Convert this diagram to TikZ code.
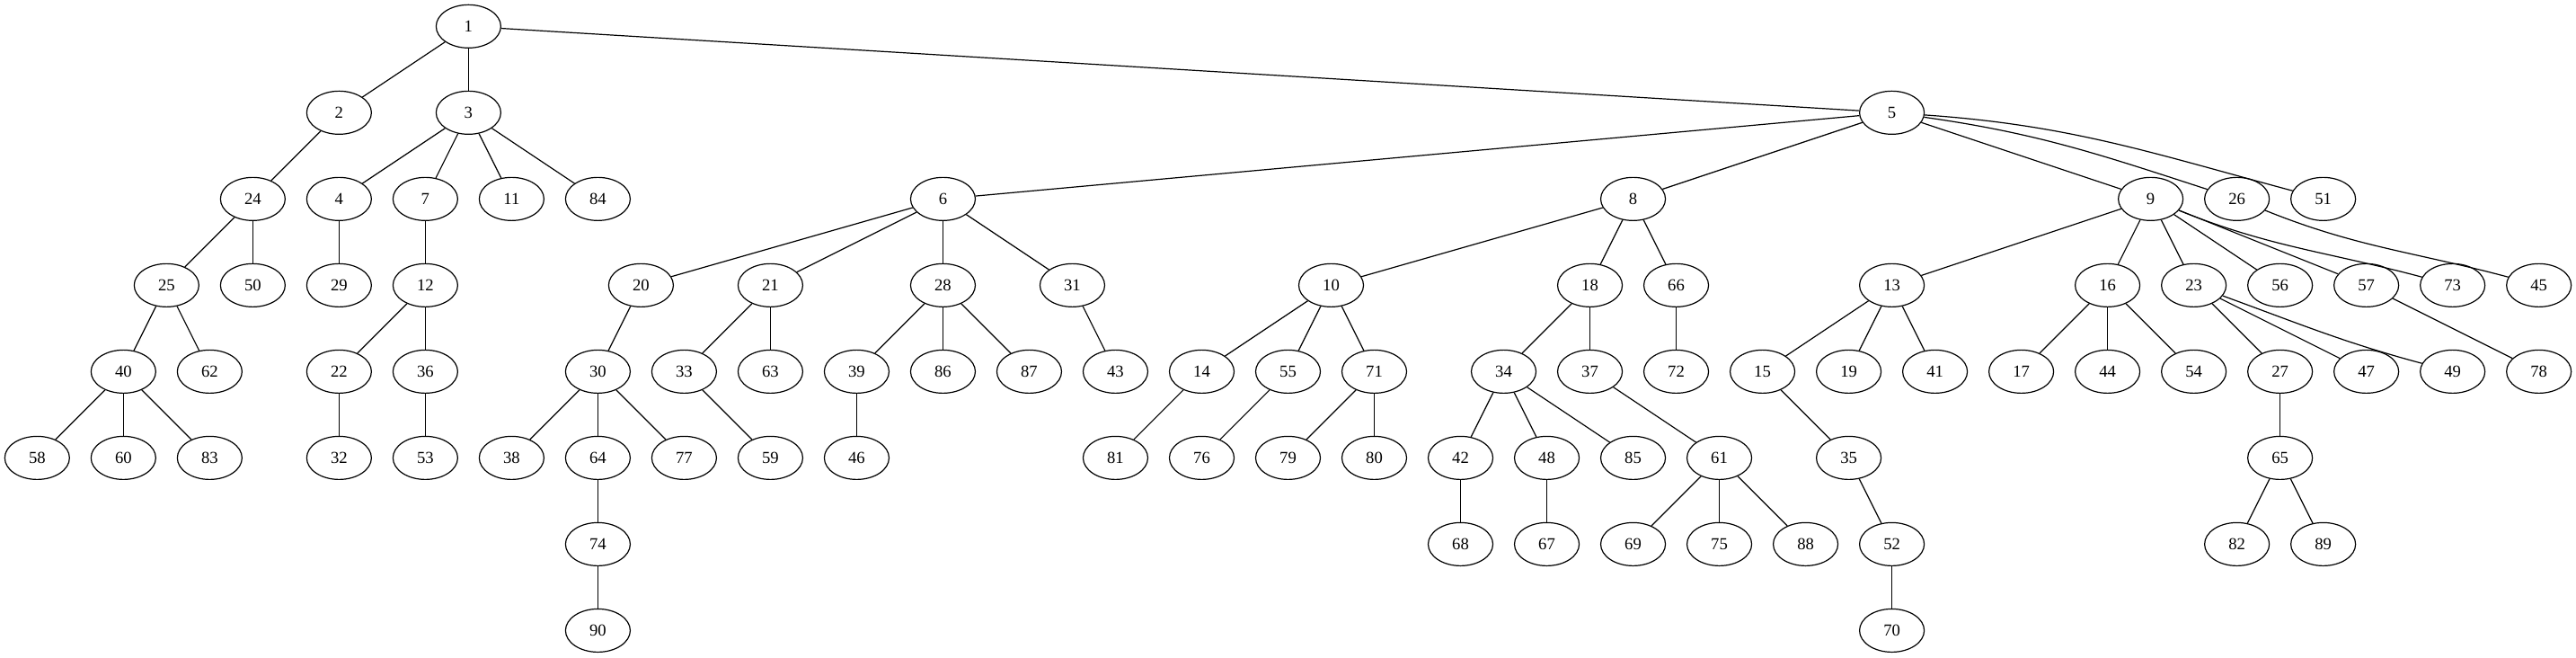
\documentclass[tikz,border=0pt]{standalone}
\usepackage{fontspec}
\setmainfont{Liberation Serif}
\usetikzlibrary{shapes.geometric}
\begin{document}
\begin{tikzpicture}[x=1pt,y=-1pt,
  nd/.style={draw,ellipse,line width=0.9pt,minimum width=54pt,minimum height=36pt,inner sep=0pt,font=\fontsize{14}{16}\selectfont},
  ed/.style={line width=0.9pt}]
\path[use as bounding box] (0,0) rectangle (2150,548.25);
\foreach \n/\k/\r in {1/10/0,
 2/7/1,3/10/1,5/43/1,
 24/5/2,4/7/2,7/9/2,11/11/2,84/13/2,6/21/2,8/37/2,9/49/2,26/51/2,51/53/2,
 25/3/3,50/5/3,29/7/3,12/9/3,20/14/3,21/17/3,28/21/3,31/24/3,10/30/3,18/36/3,66/38/3,13/43/3,16/48/3,23/50/3,56/52/3,57/54/3,73/56/3,45/58/3,
 40/2/4,62/4/4,22/7/4,36/9/4,30/13/4,33/15/4,63/17/4,39/19/4,86/21/4,87/23/4,43/25/4,14/27/4,55/29/4,71/31/4,34/34/4,37/36/4,72/38/4,15/40/4,19/42/4,41/44/4,17/46/4,44/48/4,54/50/4,27/52/4,47/54/4,49/56/4,78/58/4,
 58/0/5,60/2/5,83/4/5,32/7/5,53/9/5,38/11/5,64/13/5,77/15/5,59/17/5,46/19/5,81/25/5,76/27/5,79/29/5,80/31/5,42/33/5,48/35/5,85/37/5,61/39/5,35/42/5,65/52/5,
 74/13/6,68/33/6,67/35/6,69/37/6,75/39/6,88/41/6,52/43/6,82/51/6,89/53/6,
 90/13/7,70/43/7}
 {\node[nd] (n\n) at ({31+36*\k},{22+72*\r}) {\n};}
\foreach \a/\b in {1/2,1/3,1/5,
 2/24,24/25,24/50,25/40,25/62,40/58,40/60,40/83,
 3/4,3/7,3/11,3/84,4/29,7/12,12/22,12/36,22/32,36/53,
 5/6,5/8,5/9,
 6/20,6/21,6/28,6/31,20/30,30/38,30/64,30/77,64/74,74/90,
 21/33,21/63,33/59,28/39,28/86,28/87,39/46,31/43,
 8/10,8/18,8/66,10/14,10/55,10/71,14/81,55/76,71/79,71/80,
 18/34,18/37,34/42,34/48,34/85,42/68,48/67,37/61,61/69,61/75,61/88,66/72,
 9/13,9/16,9/23,9/56,9/57,
 13/15,13/19,13/41,15/35,35/52,52/70,
 16/17,16/44,16/54,23/27,23/47,27/65,65/82,65/89,57/78}
 {\draw[ed] (n\a) -- (n\b);}
\draw[ed] (n5) to[out=-8,in=162] (n26);
\draw[ed] (n5) to[out=-4,in=165] (n51);
\draw[ed] (n9) to[out=-22,in=165] (n73);
\draw[ed] (n26) to[out=-22,in=165] (n45);
\draw[ed] (n23) to[out=-20,in=165] (n49);
\end{tikzpicture}
\end{document}
